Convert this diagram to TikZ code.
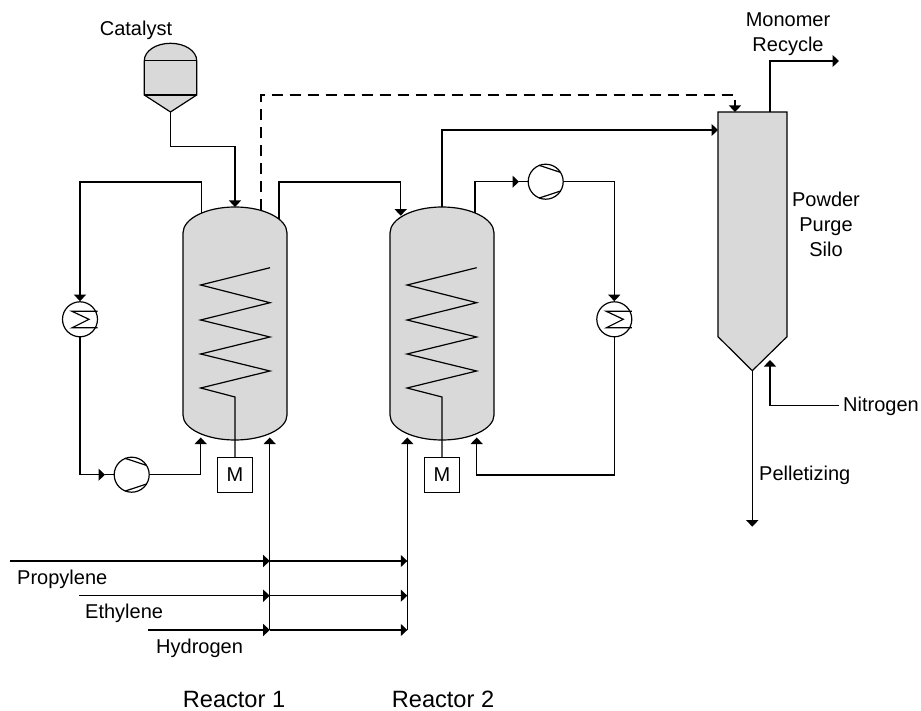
\documentclass[tikz,border=0pt]{standalone}
\usepackage{fontspec}
\setmainfont{Liberation Sans}
\usetikzlibrary{arrows.meta}
\definecolor{vesselgrey}{HTML}{D9D9D9}
\tikzset{
  pipe/.style={line width=1.2pt, line join=miter},
  flow/.style={pipe, -{Triangle[length=6.5pt, width=12pt]}},
  vessel/.style={pipe, draw, fill=vesselgrey},
  unit/.style={draw, circle, pipe, fill=white, minimum size=35pt, inner sep=0pt},
  motor/.style={draw, pipe, fill=white, minimum size=35pt, inner sep=0pt, font=\fontsize{20}{24}\selectfont},
  label/.style={inner sep=0pt, font=\fontsize{20}{25}\selectfont, align=center},
  biglabel/.style={inner sep=0pt, font=\fontsize{23.6}{28}\selectfont}
}
\begin{document}
\begin{tikzpicture}[x=1pt, y=-1pt]
\useasboundingbox (0,0) rectangle (921,711);

% vessels
\draw[vessel] (144.3,60.7) .. controls (144.3,51) and (156,43.3) .. (170.5,43.3) .. controls (185,43.3) and (196.7,51) .. (196.7,60.7) -- (196.7,95) -- (170.5,112) -- (144.3,95) -- cycle;
\draw[pipe] (144.3,60.7) -- (196.7,60.7);
\draw[pipe] (144.3,95) -- (196.7,95);
\draw[vessel] (183,233) .. controls (183,218.6) and (206.3,207) .. (235,207) .. controls (263.7,207) and (287,218.6) .. (287,233) -- (287,415) .. controls (287,428.8) and (263.7,440) .. (235,440) .. controls (206.3,440) and (183,428.8) .. (183,415) -- cycle;
\draw[vessel] (390,233) .. controls (390,218.6) and (413.3,207) .. (442,207) .. controls (470.7,207) and (494,218.6) .. (494,233) -- (494,415) .. controls (494,428.8) and (470.7,440) .. (442,440) .. controls (413.3,440) and (390,428.8) .. (390,415) -- cycle;
\draw[vessel] (718,112) -- (787,112) -- (787,336.7) -- (752.3,370.7) -- (718,336.7) -- cycle;

% units
\node[unit] (x1) at (80,319.3) {};
\node[unit] (x2) at (614.3,319.3) {};
\node[unit] (p1) at (131.7,474.7) {};
\node[unit] (p2) at (545.7,181.7) {};
\node[motor] (m1) at (235,475) {M};
\node[motor] (m2) at (442,475) {M};

% coils
\draw[pipe] (270,267.7) -- (200.7,285) -- (270,302.7) -- (200.7,320) -- (270,337) -- (200.7,354) -- (270,371) -- (200.7,388) -- (235,397) -- (m1);
\draw[pipe] (476.7,267.7) -- (407,285) -- (476.7,302.7) -- (407,320) -- (476.7,337) -- (407,354) -- (476.7,371) -- (407,388) -- (442,397) -- (m2);

% exchanger and pump marks
\draw[pipe] ([shift={(17.5,-8)}]x1.center) -- ([shift={(-8,-8)}]x1.center) -- ([shift={(9,0)}]x1.center) -- ([shift={(-8,8.5)}]x1.center) -- ([shift={(17.5,8.5)}]x1.center);
\draw[pipe] ([shift={(17.5,-8)}]x2.center) -- ([shift={(-8,-8)}]x2.center) -- ([shift={(9,0)}]x2.center) -- ([shift={(-8,8.5)}]x2.center) -- ([shift={(17.5,8.5)}]x2.center);
\draw[pipe] ([shift={(-6.7,-16.4)}]p1.center) -- ([shift={(14.3,-9.5)}]p1.center);
\draw[pipe] ([shift={(-6.7,16.4)}]p1.center) -- ([shift={(14.3,9.5)}]p1.center);
\draw[pipe] ([shift={(-6.7,-16.4)}]p2.center) -- ([shift={(14.3,-9.5)}]p2.center);
\draw[pipe] ([shift={(-6.7,16.4)}]p2.center) -- ([shift={(14.3,9.5)}]p2.center);

% ports
\coordinate (cat) at (170.5,112);
\coordinate (catin) at (235,207);
\coordinate (r1l) at (201.7,213);
\coordinate (r1d) at (261,210.5);
\coordinate (r1r) at (279,219);
\coordinate (r1b) at (200.7,437.5);
\coordinate (r1f) at (269.7,437.5);
\coordinate (r2in) at (400.7,215.7);
\coordinate (r2t) at (442,207);
\coordinate (r2r) at (475,213);
\coordinate (r2b) at (476.7,437.5);
\coordinate (r2f) at (407.3,437.5);
\coordinate (silol) at (718,130);
\coordinate (silod) at (735,100);
\coordinate (silodt) at (735,112);
\coordinate (silot) at (770,112);
\coordinate (silob) at (752.3,370.7);
\coordinate (silon) at (770,360);
\coordinate (c1) at (80,182);
\coordinate (c2) at (614.3,181.7);
\coordinate (c3) at (735,95);
\coordinate (c4) at (400.7,182);
\coordinate (c5) at (614.3,475);
\coordinate (p1in) at (105,474.7);
\coordinate (p2in) at (519,181.7);
\coordinate (rec) at (839,61);
\coordinate (nit) at (839,405.7);
\coordinate (pel) at (752.3,526.7);
\coordinate (f1a) at (10,561);
\coordinate (f2a) at (79,595.7);
\coordinate (f3a) at (148,630);
\coordinate (f1b) at (269.7,561);
\coordinate (f2b) at (269.7,595.7);
\coordinate (f3b) at (269.7,630);
\coordinate (f1c) at (407.3,561);
\coordinate (f2c) at (407.3,595.7);
\coordinate (f3c) at (407.3,630);

% reactor loops
\draw[flow] (cat) |- (235,146.7) -- (catin);
\draw[flow] (r1l) |- (c1) -- (x1);
\draw[flow] (x1) |- (p1in);
\draw[pipe] (p1in) -- (p1);
\draw[flow] (p1) -| (r1b);
\draw[flow] (r1r) |- (c4) -- (r2in);
\draw[flow] (r2r) |- (p2in);
\draw[pipe] (p2in) -- (p2);
\draw[flow] (p2) -| (c2) -- (x2);
\draw[flow] (x2) |- (c5) -| (r2b);

% silo lines
\draw[flow] (r2t) |- (silol);
\draw[pipe, dash pattern=on 11.5pt off 6.5pt] (r1d) |- (c3);
\draw[flow] (silod) -- (silodt);
\draw[flow] (silot) |- (rec);
\draw[flow] (nit) -| (silon);
\draw[flow] (silob) -- (pel);

% feeds
\draw[flow] (f1a) -- (f1b);
\draw[flow] (f2a) -- (f2b);
\draw[flow] (f3a) -- (f3b);
\draw[flow] (f1b) -- (f1c);
\draw[flow] (f2b) -- (f2c);
\draw[flow] (f3b) -- (f3c);
\draw[flow] (f3b) -- (r1f);
\draw[flow] (f3c) -- (r2f);

% labels
\node[label] (catl) at (136,30) {Catalyst};
\node[label] (recl) at (788,34) {Monomer\\Recycle};
\node[label] (silol2) at (826,224) {Powder\\Purge\\Silo};
\node[label, anchor=west] (nitl) at (843,406) {Nitrogen};
\node[label, anchor=west] (pell) at (759,475) {Pelletizing};
\node[label, anchor=west] (f1l) at (17,579) {Propylene};
\node[label, anchor=west] (f2l) at (85,613) {Ethylene};
\node[label, anchor=west] (f3l) at (156,648) {Hydrogen};
\node[biglabel] (r1l2) at (234,699) {Reactor 1};
\node[biglabel] (r2l2) at (443,699) {Reactor 2};
\end{tikzpicture}
\end{document}
